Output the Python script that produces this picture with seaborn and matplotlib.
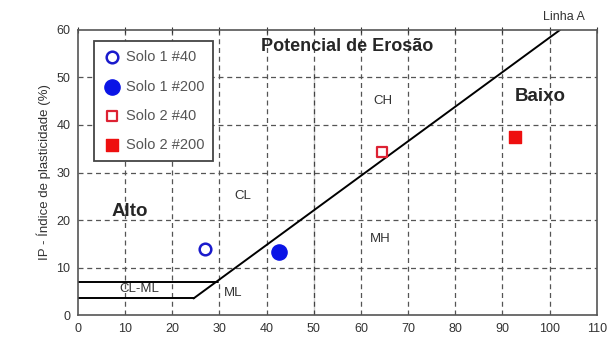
import numpy as np
import pandas as pd
import matplotlib
matplotlib.use("Agg")
import matplotlib.pyplot as plt
import seaborn as sns

# ---- data ----
series = ["Solo 1 #40", "Solo 1 #200", "Solo 2 #40", "Solo 2 #200"]
ll_vals = [26.9, 42.6, 64.4, 92.6]   # LL (%)
ip_vals = [14.0, 13.3, 34.3, 37.5]   # IP (%)

# Linha A and CL-ML strip
linha_a_x = [24.5, 102.2]
linha_a_y = [3.5, 60.0]
clml_low_x = [0, 24.5]
clml_low_y = [3.5, 3.5]
clml_up_x = [0, 29.6]
clml_up_y = [7.0, 7.0]
div_x = [50, 50]
div_y = [0, 52]

x_ticks = list(range(0, 111, 10))
y_ticks = list(range(0, 61, 10))

df = pd.DataFrame({"LL": ll_vals, "IP": ip_vals, "Amostra": series})

sns.set_style("white")
plt.rcParams["font.family"] = ["Liberation Sans", "DejaVu Sans"]

fig = plt.figure(figsize=(6.09, 3.44), dpi=100)
ax = fig.add_axes([0.128, 0.084, 0.852, 0.829])

# grid
for v in x_ticks[1:-1]:
    ax.axvline(v, color="#555555", ls=(0, (4, 3)), lw=0.9, zorder=0)
for v in y_ticks[1:-1]:
    ax.axhline(v, color="#555555", ls=(0, (4, 3)), lw=0.9, zorder=0)

# classification lines
sns.lineplot(x=linha_a_x, y=linha_a_y, color="black", lw=1.4, ax=ax)
sns.lineplot(x=clml_low_x, y=clml_low_y, color="black", lw=1.4, ax=ax)
sns.lineplot(x=clml_up_x, y=clml_up_y, color="black", lw=1.4, ax=ax)
sns.lineplot(x=div_x, y=div_y, color="black", lw=2.2, ax=ax)

styles = {
    "Solo 1 #40": dict(marker="o", facecolor="white", edgecolor="#1a1acc", s=70, lw=1.8),
    "Solo 1 #200": dict(marker="o", facecolor="#0a14e6", edgecolor="#0a14e6", s=120, lw=1),
    "Solo 2 #40": dict(marker="s", facecolor="white", edgecolor="#dd2233", s=60, lw=1.6),
    "Solo 2 #200": dict(marker="s", facecolor="#ee0f0f", edgecolor="#ee0f0f", s=80, lw=1),
}
for name in series:
    sub = df[df["Amostra"] == name]
    st = styles[name]
    sns.scatterplot(data=sub, x="LL", y="IP", marker=st["marker"], s=st["s"],
                    facecolor=st["facecolor"], edgecolor=st["edgecolor"],
                    linewidth=st["lw"], label=name, ax=ax, zorder=5)

ax.set_xlim(0, 110)
ax.set_ylim(0, 60)
ax.set_xticks(x_ticks)
ax.set_yticks(y_ticks)
ax.tick_params(axis="both", labelsize=9, colors="#333333", length=4, direction="out")
ax.tick_params(top=True, direction="inout")
for sp in ax.spines.values():
    sp.set_color("#555555")
    sp.set_linewidth(1.2)
ax.set_xlabel("")
ax.set_ylabel("IP - Índice de plasticidade (%)", fontsize=9.5, color="#333333")

# zone labels
ax.text(57, 56.5, "Potencial de Erosão", fontsize=13, fontweight="bold", ha="center", va="center")
ax.text(98, 46, "Baixo", fontsize=13.5, fontweight="bold", ha="center", va="center")
ax.text(11, 21.7, "Alto", fontsize=13.5, fontweight="bold", ha="center", va="center")
for lbl, xx, yy in [("CL", 35, 25), ("CH", 64.6, 45), ("MH", 64, 16),
                    ("CL-ML", 13, 5.4), ("ML", 33, 4.6)]:
    ax.text(xx, yy, lbl, fontsize=9.5, color="#333333", ha="center", va="center")
ax.text(103, 61.5, "Linha A", fontsize=9, color="#333333", ha="center", va="bottom", clip_on=False)

leg = ax.legend(loc="upper left", bbox_to_anchor=(0.017, 0.985), frameon=True, fancybox=False,
                framealpha=1, edgecolor="#444444", fontsize=10.5, labelspacing=1.05,
                handletextpad=0.4, borderpad=0.6, handlelength=1.2)
leg.get_frame().set_linewidth(1.3)
leg.set_zorder(10)
for t in leg.get_texts():
    t.set_color("#555555")

fig.savefig("out.png", dpi=100)
